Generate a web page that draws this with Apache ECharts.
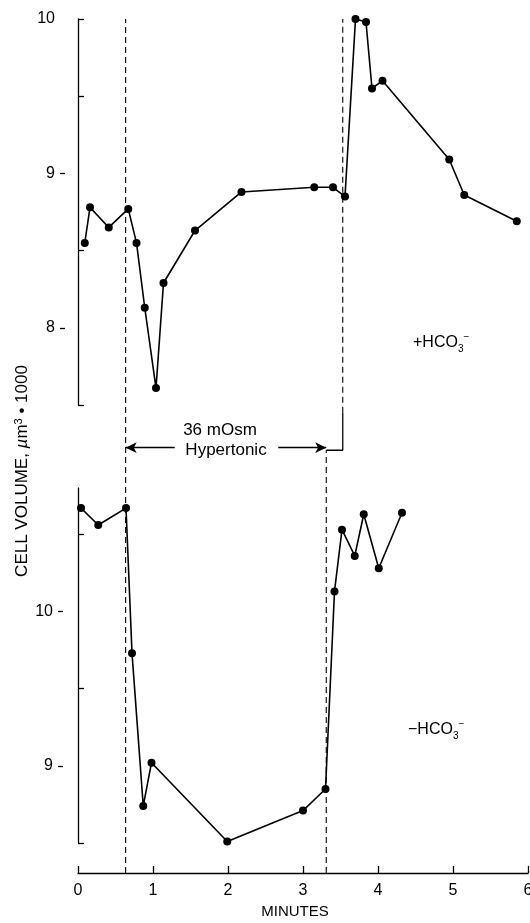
<!DOCTYPE html>
<html>
<head>
<meta charset="utf-8">
<script src="https://cdn.jsdelivr.net/npm/echarts@6/dist/echarts.min.js"></script>
<style>
  html, body { margin: 0; padding: 0; background: #fff; }
  #main { width: 530px; height: 923px; }
</style>
</head>
<body>
<div id="main"></div>
<script>
// +HCO3- panel
var topMinutes = [0.09, 0.16, 0.41, 0.67, 0.78, 0.89, 1.04, 1.14, 1.56, 2.18, 3.15, 3.40, 3.56, 3.70, 3.84, 3.92, 4.06, 4.95, 5.15, 5.85];
var topVolume = [8.55, 8.78, 8.65, 8.77, 8.55, 8.13, 7.61, 8.29, 8.63, 8.88, 8.91, 8.91, 8.85, 10.0, 9.98, 9.55, 9.60, 9.09, 8.86, 8.69];
// -HCO3- panel
var bottomMinutes = [0.04, 0.27, 0.64, 0.72, 0.87, 0.98, 1.99, 3.00, 3.30, 3.42, 3.52, 3.69, 3.81, 4.01, 4.32];
var bottomVolume = [10.67, 10.56, 10.67, 9.73, 8.74, 9.02, 8.51, 8.71, 8.85, 10.13, 10.53, 10.36, 10.63, 10.28, 10.64];

var minuteTicks = [0, 1, 2, 3, 4, 5, 6];
var topLabels = [8, 9, 10];
var topOuterTicks = [8, 9];
var topInnerTicks = [7.5, 8.5, 9.5, 10];
var bottomLabels = [9, 10];
var bottomOuterTicks = [9, 10];
var bottomInnerTicks = [8.5, 9.5, 10.5];

// hypertonic period markers (minutes), heights as fraction of full plot
var hyperStart = 0.635;
var hyperEndTop = 3.53;
var hyperEndBottom = 3.31;
var bracketTop = 0.539;
var bracketLevel = 0.495;
var arrowLevel = 0.498;
var arrowLeftTail = 1.29;
var arrowRightTail = 2.67;

var FONT = "'Liberation Sans', Arial, sans-serif";

function zip(a, b) {
  var out = [];
  for (var i = 0; i < a.length; i++) out.push([a[i], b[i]]);
  return out;
}

var chart = echarts.init(document.getElementById('main'));

var blackLine = { show: true, lineStyle: { color: '#000', width: 1.3 } };

var option = {
  animation: false,
  backgroundColor: '#fff',
  textStyle: { fontFamily: FONT, color: '#000' },
  grid: [
    { left: 78, right: 2, top: 19, height: 386, containLabel: false, outerBoundsMode: 'none' },
    { left: 78, right: 2, top: 488, height: 355, containLabel: false, outerBoundsMode: 'none' },
    { left: 78, right: 2, top: 19, height: 854, containLabel: false, outerBoundsMode: 'none' }
  ],
  xAxis: [
    { type: 'value', gridIndex: 0, min: 0, max: 6, show: false },
    {
      type: 'value', gridIndex: 1, position: 'bottom', min: 0, max: 6, interval: 1, offset: 30,
      axisLine: blackLine,
      axisTick: { show: true, inside: true, length: 7, lineStyle: { color: '#000', width: 1.3 } },
      axisLabel: { color: '#000', fontSize: 16, fontFamily: FONT, margin: 10,
        customValues: minuteTicks },
      splitLine: { show: false }
    },
    { type: 'value', gridIndex: 2, min: 0, max: 6, show: false }
  ],
  yAxis: [
    {
      type: 'value', gridIndex: 0, position: 'left', min: 7.5, max: 10, offset: 13,
      axisLine: blackLine,
      axisTick: { show: true, inside: true, length: 6, customValues: topInnerTicks, lineStyle: { color: '#000', width: 1.3 } },
      axisLabel: { show: false },
      splitLine: { show: false }
    },
    {
      type: 'value', gridIndex: 0, position: 'left', min: 7.5, max: 10, offset: 13,
      axisLine: { show: false },
      axisTick: { show: true, length: 5, customValues: topOuterTicks, lineStyle: { color: '#000', width: 1.3 } },
      axisLabel: { color: '#000', fontSize: 16, fontFamily: FONT, margin: 10, customValues: topLabels },
      splitLine: { show: false }
    },
    {
      type: 'value', gridIndex: 1, position: 'left', min: 8.5, max: 10.8, offset: 15,
      axisLine: blackLine,
      axisTick: { show: true, inside: true, length: 6, customValues: bottomInnerTicks, lineStyle: { color: '#000', width: 1.3 } },
      axisLabel: { show: false },
      splitLine: { show: false }
    },
    {
      type: 'value', gridIndex: 1, position: 'left', min: 8.5, max: 10.8, offset: 15,
      axisLine: { show: false },
      axisTick: { show: true, length: 5, customValues: bottomOuterTicks, lineStyle: { color: '#000', width: 1.3 } },
      axisLabel: { color: '#000', fontSize: 16, fontFamily: FONT, margin: 10, customValues: bottomLabels },
      splitLine: { show: false }
    },
    { type: 'value', gridIndex: 2, position: 'left', min: 0, max: 1, show: false }
  ],
  series: [
    {
      name: '+HCO3-', type: 'line', xAxisIndex: 0, yAxisIndex: 0,
      data: zip(topMinutes, topVolume), clip: false,
      symbol: 'circle', symbolSize: 8,
      itemStyle: { color: '#000' },
      lineStyle: { color: '#000', width: 1.6 }
    },
    {
      name: '-HCO3-', type: 'line', xAxisIndex: 1, yAxisIndex: 2,
      data: zip(bottomMinutes, bottomVolume), clip: false,
      symbol: 'circle', symbolSize: 8,
      itemStyle: { color: '#000' },
      lineStyle: { color: '#000', width: 1.6 }
    },
    {
      type: 'line', xAxisIndex: 2, yAxisIndex: 4, symbol: 'none', silent: true, z: 1,
      data: [[hyperStart, 0], [hyperStart, 1]],
      lineStyle: { color: '#000', width: 1.1, type: [6, 4] }
    },
    {
      type: 'line', xAxisIndex: 2, yAxisIndex: 4, symbol: 'none', silent: true, z: 1,
      data: [[hyperEndTop, bracketTop], [hyperEndTop, 1]],
      lineStyle: { color: '#000', width: 1.1, type: [6, 4] }
    },
    {
      type: 'line', xAxisIndex: 2, yAxisIndex: 4, symbol: 'none', silent: true, z: 1,
      data: [[hyperEndBottom, 0], [hyperEndBottom, bracketLevel]],
      lineStyle: { color: '#000', width: 1.1, type: [6, 4] }
    },
    {
      type: 'line', xAxisIndex: 2, yAxisIndex: 4, symbol: 'none', silent: true, z: 1,
      data: [[hyperEndTop, bracketTop], [hyperEndTop, bracketLevel], [hyperEndBottom, bracketLevel]],
      lineStyle: { color: '#000', width: 1.3 },
      markLine: {
        silent: true,
        symbol: ['none', 'arrow'],
        symbolSize: [8, 11],
        label: { show: false },
        lineStyle: { color: '#000', width: 1.3, type: 'solid' },
        data: [
          [{ coord: [arrowLeftTail, arrowLevel] }, { coord: [hyperStart, arrowLevel] }],
          [{ coord: [arrowRightTail, arrowLevel] }, { coord: [hyperEndBottom, arrowLevel] }]
        ]
      }
    }
  ],
  graphic: [
    { type: 'text', x: 220, y: 430, style: { text: '36 mOsm', font: '17px ' + FONT, fill: '#000', align: 'center', verticalAlign: 'middle' } },
    { type: 'text', x: 226, y: 450, style: { text: 'Hypertonic', font: '17px ' + FONT, fill: '#000', align: 'center', verticalAlign: 'middle' } },
    {
      type: 'text', x: 22, y: 471, rotation: Math.PI / 2,
      style: {
        text: 'CELL VOLUME, {i|µ}m{sup|3} • 1000',
        font: '17px ' + FONT, fill: '#000', align: 'center', verticalAlign: 'middle',
        rich: {
          i: { fontSize: 17, fontStyle: 'italic', fontFamily: FONT },
          sup: { fontSize: 11, verticalAlign: 'top', fontFamily: FONT }
        }
      }
    },
    {
      type: 'text', x: 413, y: 343,
      style: {
        text: '+HCO{sub|3}{sup|−}', font: '16px ' + FONT, fill: '#000', align: 'left', verticalAlign: 'middle',
        lineHeight: 22,
        rich: {
          sub: { fontSize: 10, verticalAlign: 'bottom', fontFamily: FONT, lineHeight: 22 },
          sup: { fontSize: 10, verticalAlign: 'top', fontFamily: FONT, lineHeight: 22 }
        }
      }
    },
    {
      type: 'text', x: 408, y: 730,
      style: {
        text: '−HCO{sub|3}{sup|−}', font: '16px ' + FONT, fill: '#000', align: 'left', verticalAlign: 'middle',
        lineHeight: 22,
        rich: {
          sub: { fontSize: 10, verticalAlign: 'bottom', fontFamily: FONT, lineHeight: 22 },
          sup: { fontSize: 10, verticalAlign: 'top', fontFamily: FONT, lineHeight: 22 }
        }
      }
    },
    { type: 'text', x: 295, y: 912, style: { text: 'MINUTES', font: '15px ' + FONT, fill: '#000', align: 'center', verticalAlign: 'middle' } }
  ]
};

chart.setOption(option);
</script>
</body>
</html>
